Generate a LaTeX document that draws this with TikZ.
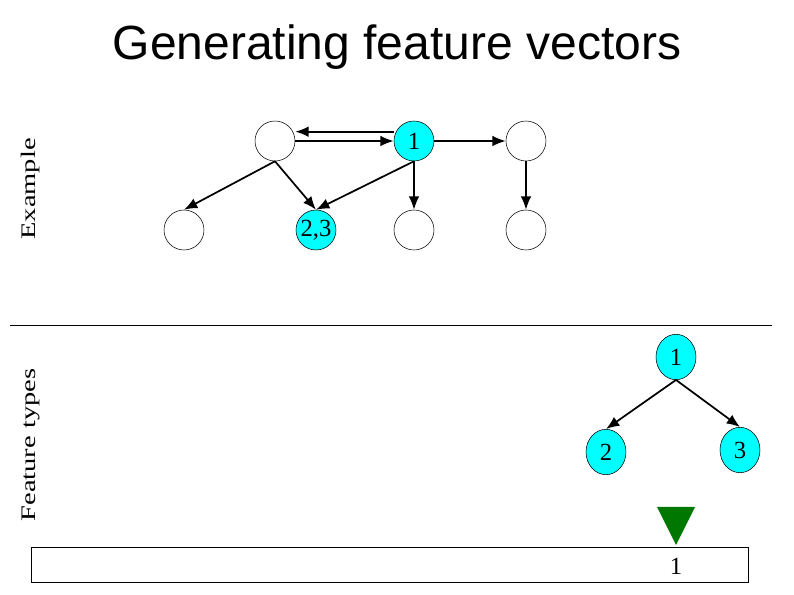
\documentclass[tikz,border=0pt]{standalone}
\usepackage{fontspec}
\setmainfont{Liberation Serif}
\newfontfamily\titlefont{Liberation Sans}
\usetikzlibrary{arrows.meta,shapes.geometric}

\definecolor{nodecyan}{RGB}{0,255,255}
\definecolor{pointer}{RGB}{0,120,0}

\tikzset{
  lbl/.style={font=\fontsize{18.5}{20}\selectfont},
  vert/.style={circle, draw, thin, inner sep=0pt, minimum size=30pt, lbl},
  hit/.style={vert, fill=nodecyan},
  ftype/.style={ellipse, draw, thin, fill=nodecyan, inner sep=0pt, minimum width=30pt, minimum height=34pt, lbl},
  arr/.style={-{Latex[length=10pt,width=8pt]}, line width=1.3pt},
  side/.style={rotate=90, font=\fontsize{15.5}{17}\selectfont}
}

\begin{document}
\begin{tikzpicture}[x=0.75pt, y=-0.75pt]

\useasboundingbox (0,0) rectangle (794,595);

\node (title) at (397,47) {\titlefont\fontsize{36}{40}\selectfont Generating feature vectors};

 \node[side] (lex) at (31,189) {\scalebox{1.38}[1]{Example}};
 \node[side] (lft) at (31,445) {\scalebox{1.38}[1]{Feature types}};

 \draw (10,325) -- (772,325);

% example graph
 \node[vert] (a) at (275,141) {};
 \node[hit]  (b) at (414,141) {1};
 \node[vert] (c) at (526,141) {};
 \node[vert] (d) at (184,230) {};
 \node[hit]  (e) at (316,230) {2,3};
 \node[vert] (f) at (414,230) {};
 \node[vert] (g) at (526,230) {};

 \draw[arr] ([yshift=7pt]b.west) -- ([yshift=7pt]a.east);
 \draw[arr] (a.east) -- (b.west);
 \draw[arr] (b.east) -- (c.west);
 \draw[arr] (a.south) -- (d.north);
 \draw[arr] (a.south) -- (e.north);
 \draw[arr] (b.south) -- (e.north);
 \draw[arr] (b.south) -- (f.north);
 \draw[arr] (c.south) -- (g.north);

% feature types
 \node[ftype] (t1) at (676,357) {1};
 \node[ftype] (t2) at (606,452) {2};
 \node[ftype] (t3) at (740,450) {3};
 \draw[arr] (t1.south) -- (t2.north);
 \draw[arr] (t1.south) -- (t3.north);

% vector
 \fill[pointer] (657,507) coordinate (tl) -- (695,507) -- (676,545) coordinate (tip) -- cycle;
 \node[draw, thin, minimum width=537.75pt, minimum height=26.25pt, inner sep=0pt] (vec) at (389.5,564.5) {};
 \node[lbl] (v1) at (676,566) {1};

\end{tikzpicture}
\end{document}
